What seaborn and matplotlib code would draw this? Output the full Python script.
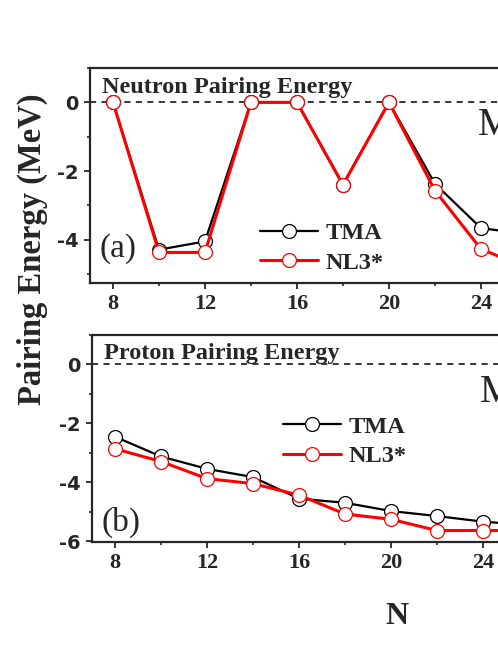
import seaborn as sns
import pandas as pd
import numpy as np
from matplotlib import pyplot as plt
from matplotlib.ticker import MultipleLocator

# neutron numbers and pairing energies (MeV)
n_vals = [8, 10, 12, 14, 16, 18, 20, 22, 24, 26]
neutron_tma = [0.0, -4.29, -4.05, 0.0, 0.0, -2.40, 0.0, -2.37, -3.66, -3.84]
neutron_nl3 = [0.0, -4.37, -4.37, 0.0, 0.0, -2.40, 0.0, -2.57, -4.27, -4.82]
proton_tma = [-2.45, -3.12, -3.54, -3.82, -4.55, -4.69, -4.97, -5.14, -5.33, -5.45]
proton_nl3 = [-2.86, -3.29, -3.87, -4.04, -4.43, -5.07, -5.25, -5.63, -5.63, -5.63]
models = ['TMA', 'NL3*']
colors = {'TMA': 'black', 'NL3*': 'red'}
x_ticks = [8, 12, 16, 20, 24, 28, 32]

sns.set_style('ticks')
plt.rcParams['font.family'] = ['Liberation Serif', 'DejaVu Serif']
plt.rcParams['axes.unicode_minus'] = False

W, H = 498, 645
fig = plt.figure(figsize=(W / 100, H / 100), dpi=100)


def px_axes(x0, y0, w, h):
    return fig.add_axes([x0 / W, 1 - (y0 + h) / H, w / W, h / H])


panels = [
    dict(box=(90, 68, 614, 215), ylim=(-5.26, 1), tma=neutron_tma, nl3=neutron_nl3,
         title='Neutron Pairing Energy', tag='(a)', tag_y=0.16, leg=(0.277, 0.163),
         mg_y=-0.67),
    dict(box=(92, 335, 614, 207), ylim=(-6.02, 1), tma=proton_tma, nl3=proton_nl3,
         title='Proton Pairing Energy', tag='(b)', tag_y=0.095, leg=(0.311, 0.485),
         mg_y=-0.95),
]

for p in panels:
    ax = px_axes(*p['box'])
    df = pd.DataFrame({'N': n_vals * 2,
                       'E': p['tma'] + p['nl3'],
                       'model': ['TMA'] * len(n_vals) + ['NL3*'] * len(n_vals)})
    ax.axhline(0, color='black', ls=(0, (4, 3.5)), lw=1.1, zorder=1)
    for m, lw in zip(models, [1.6, 2.2]):
        sub = df[df['model'] == m]
        sns.lineplot(data=sub, x='N', y='E', ax=ax, color=colors[m], lw=lw,
                     marker='o', markersize=10, markerfacecolor='white',
                     markeredgecolor=colors[m], markeredgewidth=0.9, label=m)
    ax.set_xlim(7, 33.7)
    ax.set_ylim(*p['ylim'])
    ax.set_xticks(x_ticks)
    ax.xaxis.set_minor_locator(MultipleLocator(2))
    ax.yaxis.set_major_locator(MultipleLocator(2))
    ax.yaxis.set_minor_locator(MultipleLocator(1))
    ax.tick_params(which='major', direction='out', length=4, width=1.3, pad=4)
    ax.tick_params(which='minor', direction='out', length=2.5, width=1.2)
    for lab in ax.get_xticklabels():
        lab.set_fontsize(16)
        lab.set_fontweight('bold')
    for lab in ax.get_yticklabels():
        lab.set_family('DejaVu Sans')
        lab.set_fontsize(14)
        lab.set_fontweight('bold')
    for s in ax.spines.values():
        s.set_linewidth(1.6)
    ax.set_xlabel('')
    ax.set_ylabel('')
    ax.text(0.02, 0.91, p['title'], transform=ax.transAxes, fontsize=17.5,
            fontweight='bold', va='center', ha='left')
    ax.text(0.015, p['tag_y'], p['tag'], transform=ax.transAxes, fontsize=24,
            va='center', ha='left')
    ax.text(23.87, p['mg_y'], 'Mg', fontsize=28, va='center', ha='left')
    ax.legend(loc='center left', bbox_to_anchor=p['leg'], frameon=False,
              borderaxespad=0, borderpad=0, handlelength=2.4, handletextpad=0.3,
              labelspacing=0.3, prop=dict(size=17.5, weight='bold'))

fig.text(32 / W, 1 - 249 / H, 'Pairing Energy (MeV)', rotation=90, fontsize=23.5,
         fontweight='bold', ha='center', va='center')
fig.text(397 / W, 1 - 617 / H, 'N', fontsize=23, fontweight='bold',
         ha='center', va='center')

fig.savefig('out.png', dpi=100)
